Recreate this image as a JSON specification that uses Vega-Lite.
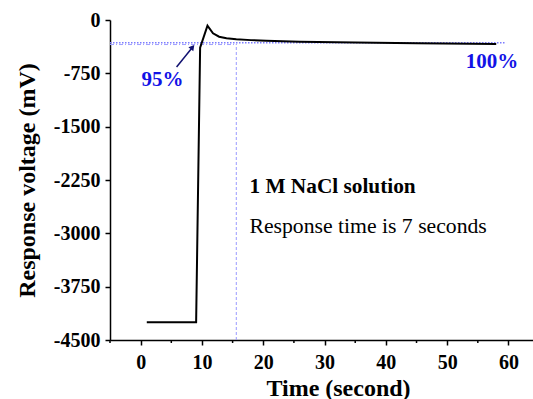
{
  "$schema": "https://vega.github.io/schema/vega-lite/v6.json",
  "width": 423,
  "height": 320,
  "autosize": {"type": "none"},
  "padding": {"left": 110, "top": 20, "right": 0, "bottom": 59},
  "background": "white",
  "config": {
    "view": {"stroke": null},
    "font": "Liberation Serif",
    "axis": {"grid": false, "domainColor": "black", "domainWidth": 1.5, "tickColor": "black", "tickWidth": 1.5,
             "labelFont": "Liberation Serif", "labelFontWeight": "bold", "labelFontSize": 20, "labelColor": "black",
             "titleFont": "Liberation Serif", "titleFontWeight": "bold", "titleFontSize": 24, "titleColor": "black"}
  },
  "datasets": {
    "curve": [
      {"t": 1, "v": -4250}, {"t": 9.05, "v": -4250}, {"t": 9.7, "v": -390}, {"t": 10.9, "v": -80},
      {"t": 11.8, "v": -187}, {"t": 12.8, "v": -235}, {"t": 14.0, "v": -257}, {"t": 15.6, "v": -271},
      {"t": 18, "v": -283}, {"t": 20.5, "v": -291}, {"t": 25.9, "v": -305}, {"t": 35, "v": -318},
      {"t": 45, "v": -328}, {"t": 58, "v": -337}
    ],
    "xminor": [
      {"t": -5, "v": -4500}, {"t": 5, "v": -4500}, {"t": 15, "v": -4500}, {"t": 25, "v": -4500},
      {"t": 35, "v": -4500}, {"t": 45, "v": -4500}, {"t": 55, "v": -4500}
    ],
    "hline": [{"t": -5, "t2": 59.6, "v": -320}],
    "hline2": [{"t": -5, "t2": 15.6, "v": -345}],
    "vline": [{"t": 15.6, "v": -4500, "v2": -335}],
    "arrow": [{"t": 5.86, "v": -661, "t2": 8.3, "v2": -400}],
    "head": [{"t": 8.47, "v": -380}],
    "labels": [
      {"t": 3.58, "v": -844, "txt": "95%"},
      {"t": 57.3, "v": -590, "txt": "100%"}
    ],
    "note1": [{"t": 17.75, "v": -2348, "txt": "1 M NaCl solution"}],
    "note2": [{"t": 17.75, "v": -2897, "txt": "Response time is 7 seconds"}]
  },
  "layer": [
    {
      "data": {"name": "hline"},
      "mark": {"type": "rule", "color": "#7b7bff", "strokeDash": [1.5, 1.5], "strokeWidth": 1.3},
      "encoding": {
        "x": {"field": "t", "type": "quantitative", "scale": {"domain": [-5, 64], "nice": false, "zero": false},
              "axis": {"orient": "bottom", "title": "Time (second)", "values": [0, 10, 20, 30, 40, 50, 60], "tickSize": 5, "labelPadding": 7, "titlePadding": 4, "titleX": 228}},
        "x2": {"field": "t2"},
        "y": {"field": "v", "type": "quantitative", "scale": {"domain": [-4500, 0], "nice": false},
              "axis": {"orient": "left", "title": "Response voltage (mV)", "values": [0, -375, -750, -1125, -1500, -1875, -2250, -2625, -3000, -3375, -3750, -4125, -4500], "tickSize": 5, "labelPadding": 5, "titlePadding": 14,
                       "labelOverlap": false,
                       "labelExpr": "datum.value % 750 == 0 ? datum.value + '' : ''",
                       "encode": {"ticks": {"update": {"x2": {"signal": "datum.value % 750 == 0 ? -5 : -3"}}}}}}
      }
    },
    {
      "data": {"name": "xminor"},
      "mark": {"type": "tick", "orient": "vertical", "size": 3, "thickness": 1.5, "color": "black", "yOffset": 1.5, "opacity": 1},
      "encoding": {
        "x": {"field": "t", "type": "quantitative"},
        "y": {"field": "v", "type": "quantitative"}
      }
    },
    {
      "data": {"name": "hline2"},
      "mark": {"type": "rule", "color": "#a0a0ff", "strokeDash": [4, 2, 1, 2], "strokeWidth": 1},
      "encoding": {
        "x": {"field": "t", "type": "quantitative"},
        "x2": {"field": "t2"},
        "y": {"field": "v", "type": "quantitative"}
      }
    },
    {
      "data": {"name": "vline"},
      "mark": {"type": "rule", "color": "#9a9aff", "strokeDash": [3, 2], "strokeWidth": 1},
      "encoding": {
        "x": {"field": "t", "type": "quantitative"},
        "y": {"field": "v", "type": "quantitative"},
        "y2": {"field": "v2"}
      }
    },
    {
      "data": {"name": "curve"},
      "mark": {"type": "line", "color": "black", "strokeWidth": 2},
      "encoding": {
        "x": {"field": "t", "type": "quantitative"},
        "y": {"field": "v", "type": "quantitative"}
      }
    },
    {
      "data": {"name": "arrow"},
      "mark": {"type": "rule", "color": "#101070", "strokeWidth": 1.5},
      "encoding": {
        "x": {"field": "t", "type": "quantitative"},
        "x2": {"field": "t2"},
        "y": {"field": "v", "type": "quantitative"},
        "y2": {"field": "v2"}
      }
    },
    {
      "data": {"name": "head"},
      "mark": {"type": "point", "shape": "triangle-up", "filled": true, "color": "#101070", "size": 40, "angle": 39, "opacity": 1},
      "encoding": {
        "x": {"field": "t", "type": "quantitative"},
        "y": {"field": "v", "type": "quantitative"}
      }
    },
    {
      "data": {"name": "labels"},
      "mark": {"type": "text", "color": "#1212e6", "fontWeight": "bold", "fontSize": 21, "font": "Liberation Serif", "align": "center", "baseline": "middle"},
      "encoding": {
        "x": {"field": "t", "type": "quantitative"},
        "y": {"field": "v", "type": "quantitative"},
        "text": {"field": "txt"}
      }
    },
    {
      "data": {"name": "note1"},
      "mark": {"type": "text", "color": "black", "fontSize": 21.3, "fontWeight": "bold", "font": "Liberation Serif", "align": "left", "baseline": "middle"},
      "encoding": {
        "x": {"field": "t", "type": "quantitative"},
        "y": {"field": "v", "type": "quantitative"},
        "text": {"field": "txt"}
      }
    },
    {
      "data": {"name": "note2"},
      "mark": {"type": "text", "color": "black", "fontSize": 21.7, "fontWeight": "normal", "font": "Liberation Serif", "align": "left", "baseline": "middle"},
      "encoding": {
        "x": {"field": "t", "type": "quantitative"},
        "y": {"field": "v", "type": "quantitative"},
        "text": {"field": "txt"}
      }
    }
  ]
}
